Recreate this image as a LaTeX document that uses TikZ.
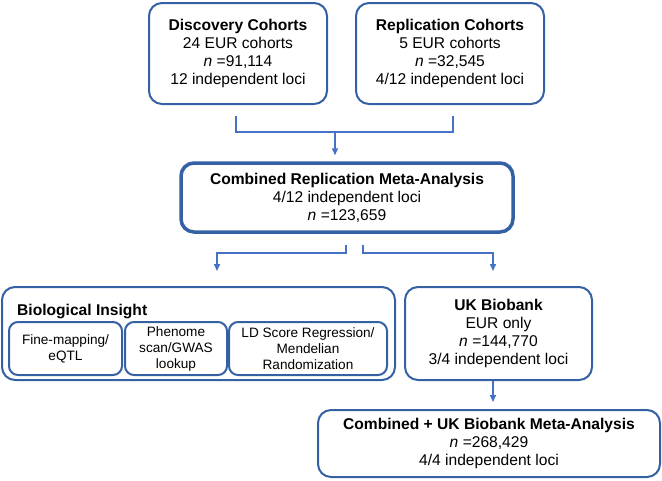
\documentclass[tikz,border=0pt]{standalone}
\usepackage{fontspec}
\setmainfont{Liberation Sans}
\usetikzlibrary{arrows.meta}
\definecolor{boxblue}{RGB}{52,96,164}
\definecolor{linkblue}{RGB}{68,114,196}
\begin{document}
\begin{tikzpicture}[x=1pt,y=-1pt,
  box/.style={draw=boxblue, line width=2pt, rounded corners=13pt, align=center, inner sep=0pt, font=\fontsize{15.6}{18}\selectfont},
  subbox/.style={draw=boxblue, line width=2pt, rounded corners=9pt, align=center, inner sep=0pt, minimum height=53pt, font=\fontsize{13.6}{16}\selectfont},
  link/.style={draw=linkblue, line width=1.5pt},
  arr/.style={link, -{Triangle[length=7pt,width=6pt]}}]
\useasboundingbox (0,0) rectangle (662,480);
\node[box, minimum width=178pt, minimum height=101pt] (disc) at (238,53.5) {\textbf{Discovery Cohorts}\\24 EUR cohorts\\\textit{n} =91,114\\12 independent loci};
\node[box, minimum width=188pt, minimum height=101pt] (repl) at (450,53.5) {\textbf{Replication Cohorts}\\5 EUR cohorts\\\textit{n} =32,545\\4/12 independent loci};
\node[box, line width=3.5pt, minimum width=332pt, minimum height=69pt] (comb) at (347,197.5) {\textbf{Combined Replication Meta-Analysis}\\4/12 independent loci\\\textit{n} =123,659};
\node[box, minimum width=393pt, minimum height=93pt] (bio) at (198.5,333.5) {};
\node[anchor=west, inner sep=0pt, font=\fontsize{15.6}{18}\selectfont\bfseries] (biotitle) at (17,311) {Biological Insight};
\node[subbox, minimum width=113pt] (fine) at (65.5,348.5) {Fine-mapping/\\eQTL};
\node[subbox, minimum width=102pt] (phen) at (176,348.5) {Phenome\\scan/GWAS\\lookup};
\node[subbox, minimum width=158pt] (ldsc) at (308,348.5) {LD Score Regression/\\Mendelian\\Randomization};
\node[box, minimum width=187pt, minimum height=93pt] (ukb) at (498.5,333.5) {\textbf{UK Biobank}\\EUR only\\\textit{n} =144,770\\3/4 independent loci};
\node[box, minimum width=342pt, minimum height=67pt] (cukb) at (489,443.5) {\textbf{Combined + UK Biobank Meta-Analysis}\\\textit{n} =268,429\\4/4 independent loci};
\coordinate (jtop) at (335,132);
\coordinate (jl) at (217,253);
\coordinate (jr) at (493,253);
\draw[link] ([xshift=-2pt,yshift=-11pt]disc.south) |- (jtop) -| ([xshift=3pt,yshift=-11pt]repl.south);
\draw[arr, shorten >=6pt] (jtop) -- (jtop |- comb.north);
\draw[arr, shorten >=15pt] ([xshift=-1pt,yshift=-11pt]comb.south) |- (jl) -- (jl |- bio.north);
\draw[arr, shorten >=15pt] ([xshift=16pt,yshift=-11pt]comb.south) |- (jr) -- (jr |- ukb.north);
\draw[arr, shorten >=7pt] (jr |- ukb.south) -- (jr |- cukb.north);
\end{tikzpicture}
\end{document}
